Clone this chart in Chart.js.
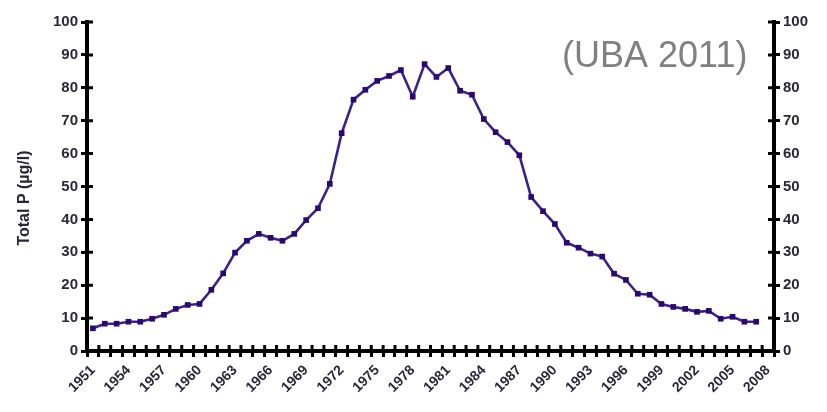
<!DOCTYPE html>
<html>
<head>
<meta charset="utf-8">
<script src="https://cdn.jsdelivr.net/npm/chart.js@4/dist/chart.umd.min.js"></script>
<style>
  html, body { margin: 0; padding: 0; background: #ffffff; }
  #wrap { width: 827px; height: 412px; position: relative; }
</style>
</head>
<body>
<div id="wrap"><canvas id="c" width="827" height="412"></canvas></div>
<script>
// Years on the category axis
const years = [
  '1951','1952','1953','1954','1955','1956','1957','1958','1959','1960',
  '1961','1962','1963','1964','1965','1966','1967','1968','1969','1970',
  '1971','1972','1973','1974','1975','1976','1977','1978','1979','1980',
  '1981','1982','1983','1984','1985','1986','1987','1988','1989','1990',
  '1991','1992','1993','1994','1995','1996','1997','1998','1999','2000',
  '2001','2002','2003','2004','2005','2006','2007','2008'
];

// Years that carry a printed label
const labelledYears = [
  '1951','1954','1957','1960','1963','1966','1969','1972','1975','1978',
  '1981','1984','1987','1990','1993','1996','1999','2002','2005','2008'
];

// Total phosphorus, µg/l
const totalP = [
  6.9, 8.3, 8.3, 8.9, 8.9, 9.8, 11.0, 12.8, 14.0, 14.3,
  18.6, 23.6, 29.9, 33.5, 35.6, 34.4, 33.5, 35.6, 39.8, 43.4,
  50.8, 66.2, 76.4, 79.4, 82.1, 83.6, 85.4, 77.3, 87.2, 83.3,
  86.0, 79.1, 77.9, 70.5, 66.5, 63.5, 59.5, 46.8, 42.5, 38.6,
  32.9, 31.4, 29.6, 28.7, 23.5, 21.6, 17.4, 17.1, 14.3, 13.4,
  12.8, 11.9, 12.2, 9.8, 10.4, 8.9, 8.9, null
];

// Value axis ticks
const yTicks = [0, 10, 20, 30, 40, 50, 60, 70, 80, 90, 100];

const FONT = '"Liberation Sans", Arial, sans-serif';
const INK = '#000000';
const LABEL = '#2a2838';

// Tick marks that cross the axis lines (the outer half comes from the grid)
const crossTicks = {
  id: 'crossTicks',
  afterDatasetsDraw(chart) {
    const ctx = chart.ctx;
    const xs = chart.scales.x, yl = chart.scales.y, yr = chart.scales.y2;
    ctx.save();
    ctx.strokeStyle = INK;
    ctx.lineWidth = 3;
    ctx.beginPath();
    const step = xs.getPixelForValue(1) - xs.getPixelForValue(0);
    const x0 = xs.getPixelForValue(0) - step / 2;
    for (let i = 0; i <= xs.ticks.length; i++) {
      const px = x0 + i * step;
      ctx.moveTo(px, xs.top);
      ctx.lineTo(px, xs.top - 6);
    }
    yl.ticks.forEach((t, i) => {
      const py = yl.getPixelForTick(i);
      ctx.moveTo(yl.right, py);
      ctx.lineTo(yl.right + 6, py);
    });
    yr.ticks.forEach((t, i) => {
      const py = yr.getPixelForTick(i);
      ctx.moveTo(yr.left, py);
      ctx.lineTo(yr.left - 6, py);
    });
    ctx.stroke();
    ctx.restore();
  }
};

// Source note and rotated axis title
const annotations = {
  id: 'annotations',
  afterDraw(chart) {
    const ctx = chart.ctx;
    ctx.save();
    ctx.fillStyle = '#808080';
    ctx.font = '36px ' + FONT;
    ctx.textAlign = 'left';
    ctx.textBaseline = 'alphabetic';
    ctx.fillText('(UBA 2011)', 562, 67);

    ctx.fillStyle = LABEL;
    ctx.font = 'bold 16px ' + FONT;
    ctx.translate(25, 198);
    ctx.rotate(-Math.PI / 2);
    ctx.textAlign = 'center';
    ctx.textBaseline = 'middle';
    ctx.fillText('Total P (µg/l)', 0, 0);
    ctx.restore();
  }
};

const yAxisCommon = {
  type: 'linear',
  min: 0,
  max: 100,
  afterBuildTicks(scale) { scale.ticks = yTicks.map(v => ({ value: v })); },
  grid: { drawOnChartArea: false, color: INK, lineWidth: 3, tickLength: 6 },
  border: { display: true, color: INK, width: 4 },
  ticks: {
    color: LABEL,
    padding: 3,
    font: { family: FONT, size: 15, weight: 'bold' }
  }
};

new Chart(document.getElementById('c'), {
  type: 'line',
  data: {
    labels: years,
    datasets: [{
      data: totalP,
      borderColor: '#3a2288',
      borderWidth: 2.6,
      backgroundColor: '#2a0870',
      pointStyle: 'rect',
      pointRadius: 4,
      pointBorderWidth: 0,
      pointBackgroundColor: '#2a0870',
      tension: 0,
      spanGaps: false,
      yAxisID: 'y'
    }]
  },
  options: {
    responsive: false,
    animation: false,
    devicePixelRatio: 1,
    layout: { padding: { top: 22, left: 0, right: 0, bottom: 0 } },
    plugins: { legend: { display: false }, tooltip: { enabled: false } },
    scales: {
      x: {
        type: 'category',
        offset: true,
        grid: { offset: true, drawOnChartArea: false, color: INK, lineWidth: 3, tickLength: 6 },
        border: { display: true, color: INK, width: 4 },
        ticks: {
          autoSkip: false,
          minRotation: 45,
          maxRotation: 45,
          padding: 5,
          color: LABEL,
          font: { family: FONT, size: 14, weight: 'bold' },
          callback(value, index) {
            const lab = this.getLabelForValue(value);
            return labelledYears.includes(lab) ? lab : '';
          }
        },
        afterFit(scale) { scale.height = 61; }
      },
      y: Object.assign({}, yAxisCommon, {
        position: 'left',
        afterFit(scale) { scale.width = 87; }
      }),
      y2: Object.assign({}, yAxisCommon, {
        position: 'right',
        afterFit(scale) { scale.width = 53; }
      })
    }
  },
  plugins: [crossTicks, annotations]
});
</script>
</body>
</html>
